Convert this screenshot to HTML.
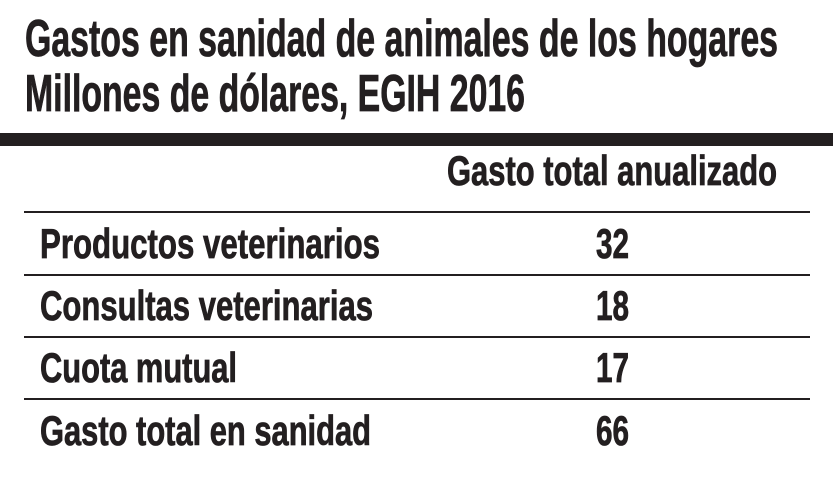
<!DOCTYPE html>
<html><head><meta charset="utf-8"><style>
html,body{margin:0;padding:0;background:#fff;}
svg{display:block;}
text{font-family:"Liberation Sans Narrow","Liberation Sans",sans-serif;font-weight:bold;fill:#231f20;stroke:#231f20;stroke-width:0.8px;}
</style></head><body>
<svg width="833" height="486" viewBox="0 0 833 486">
<text x="25" y="56" font-size="52" textLength="753" lengthAdjust="spacingAndGlyphs">Gastos en sanidad de animales de los hogares</text>
<text x="25" y="111" font-size="52" textLength="500" lengthAdjust="spacingAndGlyphs">Millones de dólares, EGIH 2016</text>
<rect x="0" y="133" width="833" height="13" fill="#231f20"/>
<text x="447" y="185" font-size="42" textLength="330" lengthAdjust="spacingAndGlyphs">Gasto total anualizado</text>
<g fill="#231f20">
<rect x="24" y="211" width="786" height="2"/>
<rect x="24" y="274" width="786" height="2"/>
<rect x="24" y="336" width="786" height="2"/>
<rect x="24" y="398" width="786" height="2"/>
</g>
<text x="40" y="258" font-size="42" textLength="340" lengthAdjust="spacingAndGlyphs">Productos veterinarios</text>
<text x="40" y="320" font-size="42" textLength="333" lengthAdjust="spacingAndGlyphs">Consultas veterinarias</text>
<text x="40" y="382" font-size="42" textLength="197" lengthAdjust="spacingAndGlyphs">Cuota mutual</text>
<text x="40" y="445" font-size="42" textLength="331" lengthAdjust="spacingAndGlyphs">Gasto total en sanidad</text>
<text x="596" y="258" font-size="42" textLength="33" lengthAdjust="spacingAndGlyphs">32</text>
<text x="596" y="320" font-size="42" textLength="33" lengthAdjust="spacingAndGlyphs">18</text>
<text x="596" y="382" font-size="42" textLength="33" lengthAdjust="spacingAndGlyphs">17</text>
<text x="596" y="445" font-size="42" textLength="33" lengthAdjust="spacingAndGlyphs">66</text>
</svg>
</body></html>
